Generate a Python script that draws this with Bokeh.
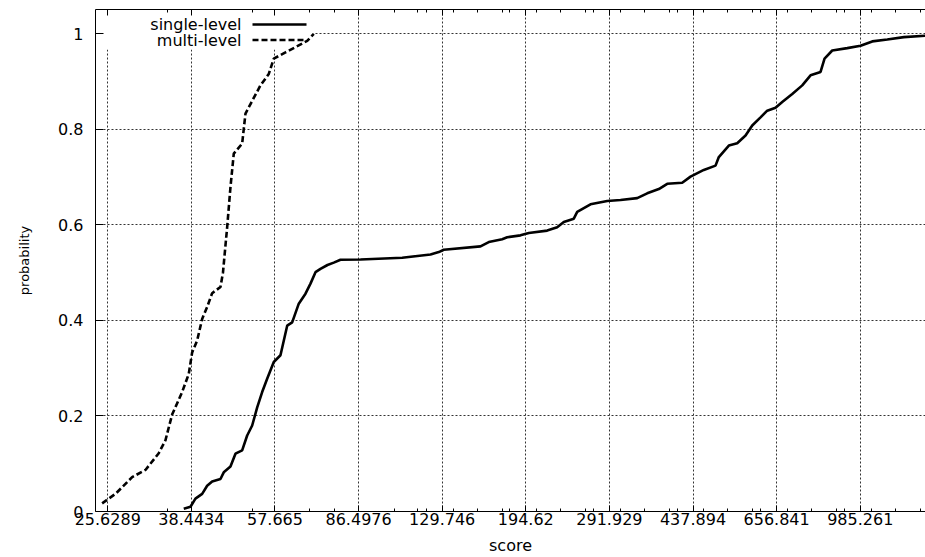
from bokeh.plotting import figure
from bokeh.models import (LogAxis, FixedTicker, Range1d, Label, Arrow,
                          BoxAnnotation, ColumnDataSource)
from bokeh.embed import file_html
from bokeh.resources import INLINE

# ---------------- data ----------------
XTICK_LABELS = ["25.6289", "38.4434", "57.665", "86.4976", "129.746",
                "194.62", "291.929", "437.894", "656.841", "985.261"]
XTICKS = [float(s) for s in XTICK_LABELS]
YTICKS = [0, 0.2, 0.4, 0.6, 0.8, 1]
YTICK_LABELS = ["0", "0.2", "0.4", "0.6", "0.8", "1"]
# minor tick places inside each major interval (fraction of the log interval)
MINOR_FRACTIONS = [[0.717], [0.729], [0.418, 0.717], [0.43, 0.71, 0.81],
                   [0.131, 0.418, 0.717, 0.809], [0.131, 0.418, 0.717, 0.809],
                   [0.131, 0.418, 0.717, 0.809], [0.131, 0.418, 0.717, 0.809],
                   [0.131, 0.418, 0.717, 0.809], [0.131, 0.418, 0.717, 0.809]]

SINGLE_SCORE = [37.05, 38.28, 39.21, 40.51, 41.50, 42.52, 44.27, 44.98, 46.47, 47.61,
                49.18, 50.39, 51.63, 52.90, 54.19, 55.52, 57.33, 59.22, 61.18, 62.68,
                64.72, 66.86, 68.50, 70.18, 71.90, 74.39, 76.69, 79.23, 87.30, 106.87,
                122.58, 127.62, 130.75, 156.22, 162.64, 173.56, 177.82, 189.67, 197.46,
                215.89, 226.62, 233.99, 245.61, 249.70, 266.33, 288.81, 308.06, 334.05,
                350.65, 370.95, 386.38, 415.55, 432.62, 461.43, 488.38, 496.25, 520.91,
                542.56, 564.86, 583.52, 607.48, 627.55, 653.36, 674.91, 708.46, 743.67,
                774.22, 812.69, 828.61, 860.13, 925.03, 986.69, 1044.28, 1123.09,
                1217.22, 1352.0]
SINGLE_PROB = [0.006, 0.010, 0.027, 0.037, 0.054, 0.063, 0.068, 0.082, 0.094, 0.121,
               0.128, 0.159, 0.180, 0.218, 0.250, 0.278, 0.313, 0.327, 0.389, 0.396,
               0.435, 0.456, 0.477, 0.501, 0.508, 0.516, 0.521, 0.527, 0.5275, 0.531,
               0.538, 0.543, 0.548, 0.555, 0.564, 0.570, 0.574, 0.578, 0.583,
               0.588, 0.595, 0.606, 0.613, 0.627, 0.643, 0.650, 0.652, 0.656,
               0.666, 0.675, 0.686, 0.688, 0.701, 0.715, 0.724, 0.742, 0.766,
               0.771, 0.787, 0.808, 0.825, 0.839, 0.845, 0.857, 0.874, 0.892,
               0.913, 0.920, 0.948, 0.965, 0.970, 0.975, 0.984, 0.988,
               0.993, 0.996]

MULTI_SCORE = [24.94, 26.61, 28.85, 30.77, 32.82, 33.90, 35.02, 36.76, 37.96, 38.59,
               39.54, 40.51, 41.50, 42.52, 44.27, 44.81, 45.73, 46.47, 47.22, 49.18,
               49.98, 50.78, 53.75, 55.96, 57.33, 60.68, 67.41, 69.60]
MULTI_PROB = [0.017, 0.037, 0.072, 0.087, 0.122, 0.149, 0.203, 0.250, 0.288, 0.333,
              0.358, 0.403, 0.428, 0.457, 0.470, 0.500, 0.595, 0.679, 0.749, 0.770,
              0.833, 0.846, 0.892, 0.916, 0.948, 0.961, 0.985, 1.000]

SERIES_NAMES = ["single-level", "multi-level"]
X_LABEL = "score"
Y_LABEL = "probability"

# ---------------- styles ----------------
FONT = "DejaVu Sans"
TICK_FS = "16px"

minor_ticks = []
for base, fracs in zip(XTICKS, MINOR_FRACTIONS):
    for f in fracs:
        minor_ticks.append(base * 1.5 ** f)

x_ticker = FixedTicker(ticks=XTICKS, minor_ticks=minor_ticks)
y_ticker = FixedTicker(ticks=YTICKS)

p = figure(width=925, height=557, x_axis_type="log",
           x_range=Range1d(24.15, 1352), y_range=Range1d(0, 1.0508),
           output_backend="svg", toolbar_location=None,
           min_border_left=95, min_border_right=0, min_border_top=9,
           min_border_bottom=46)
p.outline_line_color = None
p.background_fill_color = "white"
p.border_fill_color = "white"

# bottom axis
xa = p.xaxis[0]
xa.ticker = x_ticker
xa.major_label_overrides = {v: s for v, s in zip(XTICKS, XTICK_LABELS)}
xa.major_tick_in = 6
xa.major_tick_out = 0
xa.minor_tick_in = 3
xa.minor_tick_out = 0
xa.major_label_standoff = 1
xa.major_label_text_font = FONT
xa.major_label_text_font_size = TICK_FS
xa.major_label_text_color = "black"
xa.axis_label = X_LABEL
xa.axis_label_text_font = FONT
xa.axis_label_text_font_size = TICK_FS
xa.axis_label_text_font_style = "normal"
xa.axis_label_text_color = "black"
xa.axis_label_standoff = 8
xa.axis_line_color = "black"
xa.major_tick_line_color = "black"
xa.minor_tick_line_color = "black"

# top mirror axis (ticks only, labels not painted)
ta = LogAxis(ticker=x_ticker, major_label_text_font_size="1px",
             major_label_text_color=None,
             major_tick_in=6, major_tick_out=0, minor_tick_in=3, minor_tick_out=0,
             major_label_standoff=0, axis_line_color="black")
p.add_layout(ta, "above")

# left axis
ya = p.yaxis[0]
ya.ticker = y_ticker
ya.major_label_overrides = {v: s for v, s in zip(YTICKS, YTICK_LABELS)}
ya.major_tick_in = 8
ya.major_tick_out = 0
ya.minor_tick_line_color = None
ya.major_label_standoff = 12
ya.major_label_text_font = FONT
ya.major_label_text_font_size = TICK_FS
ya.major_label_text_color = "black"
ya.axis_label = Y_LABEL
ya.axis_label_text_font = FONT
ya.axis_label_text_font_size = "13px"
ya.axis_label_text_font_style = "normal"
ya.axis_label_text_color = "black"
ya.axis_label_standoff = 23
ya.axis_line_color = "black"

# grids
p.xgrid.ticker = x_ticker
p.ygrid.ticker = y_ticker
for g in (p.xgrid, p.ygrid):
    g.grid_line_color = "#333333"
    g.grid_line_dash = "2 2"
    g.grid_line_width = 1

# key background (hides the grid behind the key)
key_box = BoxAnnotation(left=0, right=218, bottom=462, top=502,
                        left_units="screen", right_units="screen",
                        bottom_units="screen", top_units="screen",
                        fill_color="white", fill_alpha=1.0, line_color=None,
                        level="underlay")
p.add_layout(key_box)

# curves
src_s = ColumnDataSource(dict(score=SINGLE_SCORE, prob=SINGLE_PROB))
src_m = ColumnDataSource(dict(score=MULTI_SCORE, prob=MULTI_PROB))
p.line("score", "prob", source=src_s, line_color="black", line_width=2.6)
p.line("score", "prob", source=src_m, line_color="black", line_width=2.6,
       line_dash="6 3")

# key (text left, sample line right, like gnuplot)
for name, ty, dash in [(SERIES_NAMES[0], 487, "solid"), (SERIES_NAMES[1], 471.5, "6 3")]:
    p.add_layout(Label(x=146, y=ty, x_units="screen", y_units="screen", text=name,
                       text_align="right", text_baseline="middle",
                       text_font=FONT, text_font_size=TICK_FS, text_color="black"))
    p.add_layout(Arrow(x_start=157, y_start=ty, x_end=211, y_end=ty,
                       start_units="screen", end_units="screen",
                       start=None, end=None, line_color="black", line_width=2.6,
                       line_dash=dash))

open("out.html", "w").write(file_html(p, INLINE))
